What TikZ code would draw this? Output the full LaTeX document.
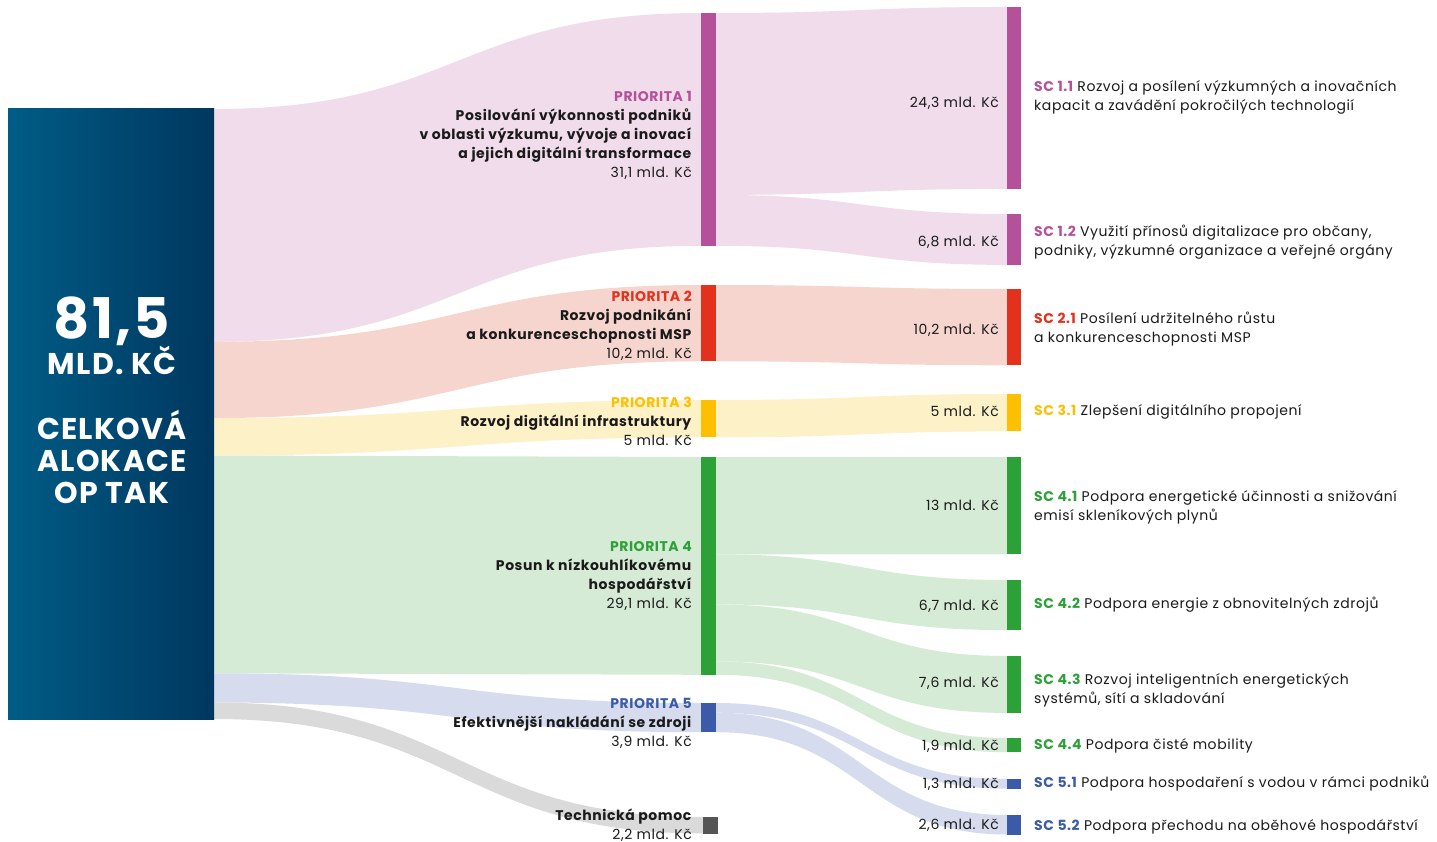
\documentclass[tikz,border=0pt]{standalone}
\usepackage{fontspec}
\setmainfont[LetterSpace=4]{Poppins}
\definecolor{totl}{HTML}{005C86}
\definecolor{totr}{HTML}{00375F}
\definecolor{p1c}{HTML}{B5519B}
\definecolor{p1l}{HTML}{F0DCEB}
\definecolor{p2c}{HTML}{E2311D}
\definecolor{p2l}{HTML}{F7D5CF}
\definecolor{p3c}{HTML}{FCC000}
\definecolor{p3l}{HTML}{FDF1C8}
\definecolor{p4c}{HTML}{2CA137}
\definecolor{p4l}{HTML}{D6EBD5}
\definecolor{p5c}{HTML}{3B5BA9}
\definecolor{p5l}{HTML}{D6DCEE}
\definecolor{tpc}{HTML}{555555}
\definecolor{tpl}{HTML}{DADADA}
\definecolor{ink}{HTML}{1A1A1A}
\newcommand{\sankeyband}[7]{%
  \pgfmathsetmacro{\xmid}{(#1+#4)/2}%
  \fill[#7] (#1,#2) .. controls (\xmid,#2) and (\xmid,#5) .. (#4,#5)
    -- (#4,#6) .. controls (\xmid,#6) and (\xmid,#3) .. (#1,#3) -- cycle;}
\newcommand{\prhead}[2]{\textbf{\textcolor{#1}{#2}}}

\begin{document}
\begin{tikzpicture}[x=1pt,y=-1pt,
    prio/.style={font=\fontsize{14}{19}\selectfont, text=ink, align=right, anchor=north east, inner sep=0pt},
    sclbl/.style={font=\fontsize{14}{19}\selectfont, text=ink, align=left, anchor=north west, inner sep=0pt},
    val/.style={font=\fontsize{14}{19}\selectfont, text=ink, anchor=base east, inner sep=0pt}]
    \useasboundingbox (0,0) rectangle (1437,842);
    \fill[white] (0,0) rectangle (1437,842);
    \sankeyband{214}{109}{341.8}{701}{13}{245.8}{p1l}
    \sankeyband{214}{341.8}{418.1}{701}{285}{361.3}{p2l}
    \sankeyband{214}{418.1}{455.5}{701}{400}{437.4}{p3l}
    \sankeyband{214}{455.5}{673.3}{701}{457}{674.8}{p4l}
    \sankeyband{214}{673.3}{702.5}{701}{703}{732.2}{p5l}
    \sankeyband{214}{702.5}{719}{704}{817}{833.5}{tpl}
    \sankeyband{716}{13}{194.9}{1007}{7}{188.9}{p1l}
    \sankeyband{716}{194.9}{245.8}{1007}{214}{264.9}{p1l}
    \sankeyband{716}{285}{361.3}{1007}{289}{365.3}{p2l}
    \sankeyband{716}{400}{437.4}{1007}{394}{431.4}{p3l}
    \sankeyband{716}{457}{554.3}{1007}{457}{554.3}{p4l}
    \sankeyband{716}{554.3}{604.4}{1007}{580}{630.1}{p4l}
    \sankeyband{716}{604.4}{661.3}{1007}{656}{712.9}{p4l}
    \sankeyband{716}{661.3}{674.8}{1007}{738}{752.2}{p4l}
    \sankeyband{716}{703}{712.7}{1007}{779}{788.7}{p5l}
    \sankeyband{716}{712.7}{732.2}{1007}{815}{834.5}{p5l}
    \shade[left color=totl, right color=totr] (8,109) rectangle (214,719);
    \foreach \ya/\yb/\col in {13/245.8/p1c, 285/361.3/p2c, 400/437.4/p3c, 457/674.8/p4c, 703/732.2/p5c}
        \fill[\col] (701,\ya) rectangle (716,\yb);
    \fill[tpc] (703,817) rectangle (718,833.5);
    \foreach \ya/\yb/\col in {7/188.9/p1c, 214/264.9/p1c, 289/365.3/p2c, 394/431.4/p3c, 457/554.3/p4c,
        580/630.1/p4c, 656/712.9/p4c, 738/752.2/p4c, 779/788.7/p5c, 815/834.5/p5c}
        \fill[\col] (1007,\ya) rectangle (1021,\yb);
    \node[text=white, font=\bfseries\fontsize{56}{58}\selectfont, anchor=base, inner sep=0pt, text depth=0pt] (total) at (112,338) {81,5};
    \node[text=white, font=\bfseries\fontsize{30}{32}\selectfont, anchor=base, inner sep=0pt] (unit) at (112,374) {MLD. KČ};
    \node[text=white, font=\bfseries\fontsize{30}{32}\selectfont, align=center, anchor=north, inner sep=0pt] (totlbl) at (112,409.6) {\strut CELKOVÁ\\ALOKACE\\OP TAK};
    \node[prio] (p1lbl) at (692,88) {\strut\prhead{p1c}{PRIORITA 1}\\ \textbf{Posilování výkonnosti podniků}\\ \textbf{v oblasti výzkumu, vývoje a inovací}\\ \textbf{a jejich digitální transformace}\\ 31,1 mld. Kč};
    \node[prio] (p2lbl) at (692,288) {\strut\prhead{p2c}{PRIORITA 2}\\ \textbf{Rozvoj podnikání}\\ \textbf{a konkurenceschopnosti MSP}\\ 10,2 mld. Kč};
    \node[prio] (p3lbl) at (692,394) {\strut\prhead{p3c}{PRIORITA 3}\\ \textbf{Rozvoj digitální infrastruktury}\\ 5 mld. Kč};
    \node[prio] (p4lbl) at (692,538) {\strut\prhead{p4c}{PRIORITA 4}\\ \textbf{Posun k nízkouhlíkovému}\\ \textbf{hospodářství}\\ 29,1 mld. Kč};
    \node[prio] (p5lbl) at (692,695) {\strut\prhead{p5c}{PRIORITA 5}\\ \textbf{Efektivnější nakládání se zdroji}\\ 3,9 mld. Kč};
    \node[prio] (tplbl) at (692,807) {\strut\textbf{Technická pomoc}\\ 2,2 mld. Kč};
    \node[val] (v11) at (999,107.5) {24,3 mld. Kč};
    \node[val] (v12) at (999,246.5) {6,8 mld. Kč};
    \node[val] (v21) at (999,334.5) {10,2 mld. Kč};
    \node[val] (v31) at (999,416.5) {5 mld. Kč};
    \node[val] (v41) at (999,510.5) {13 mld. Kč};
    \node[val] (v42) at (999,610.5) {6,7 mld. Kč};
    \node[val] (v43) at (999,687.5) {7,6 mld. Kč};
    \node[val] (v44) at (999,750.5) {1,9 mld. Kč};
    \node[val] (v51) at (999,788.5) {1,3 mld. Kč};
    \node[val] (v52) at (999,829.5) {2,6 mld. Kč};
    \node[sclbl] (sc11) at (1034,78) {\strut\prhead{p1c}{SC 1.1} Rozvoj a posílení výzkumných a inovačních\\kapacit a zavádění pokročilých technologií};
    \node[sclbl] (sc12) at (1034,223) {\strut\prhead{p1c}{SC 1.2} Využití přínosů digitalizace pro občany,\\podniky, výzkumné organizace a veřejné orgány};
    \node[sclbl] (sc21) at (1034,310) {\strut\prhead{p2c}{SC 2.1} Posílení udržitelného růstu\\a konkurenceschopnosti MSP};
    \node[sclbl] (sc31) at (1034,402) {\strut\prhead{p3c}{SC 3.1} Zlepšení digitálního propojení};
    \node[sclbl] (sc41) at (1034,488) {\strut\prhead{p4c}{SC 4.1} Podpora energetické účinnosti a snižování\\emisí skleníkových plynů};
    \node[sclbl] (sc42) at (1034,595) {\strut\prhead{p4c}{SC 4.2} Podpora energie z obnovitelných zdrojů};
    \node[sclbl] (sc43) at (1034,671) {\strut\prhead{p4c}{SC 4.3} Rozvoj inteligentních energetických\\systémů, sítí a skladování};
    \node[sclbl] (sc44) at (1034,736) {\strut\prhead{p4c}{SC 4.4} Podpora čisté mobility};
    \node[sclbl] (sc51) at (1034,774) {\strut\prhead{p5c}{SC 5.1} Podpora hospodaření s vodou v rámci podniků};
    \node[sclbl] (sc52) at (1034,817) {\strut\prhead{p5c}{SC 5.2} Podpora přechodu na oběhové hospodářství};
\end{tikzpicture}
\end{document}
